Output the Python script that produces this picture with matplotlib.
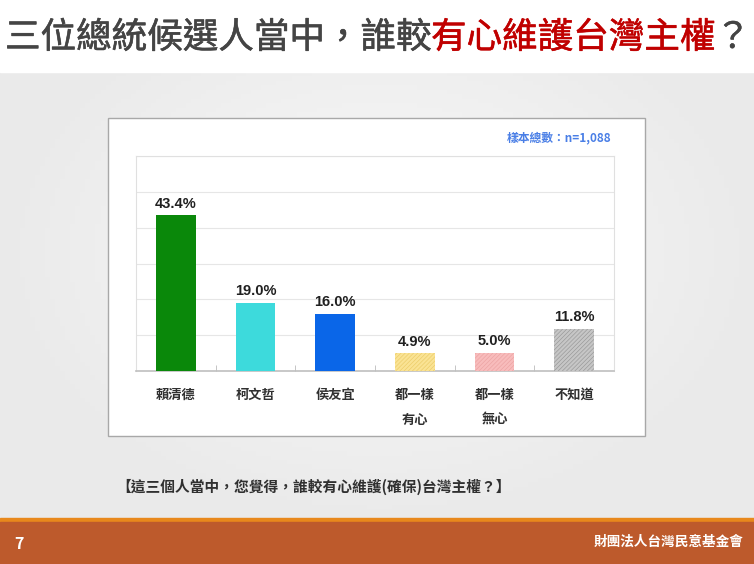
import numpy as np
import matplotlib
matplotlib.use("Agg")
from matplotlib import pyplot as plt
from matplotlib.patches import Rectangle
import matplotlib.patheffects as pe

plt.rcParams['font.family'] = ['Noto Sans CJK TC', 'DejaVu Sans']
plt.rcParams['hatch.linewidth'] = 0.45

# datos
categorii = ['賴清德', '柯文哲', '侯友宜', '都一樣\n有心', '都一樣\n無心', '不知道']
valori = [43.4, 19.0, 16.0, 4.9, 5.0, 11.8]
etichete = ['43.4%', '19.0%', '16.0%', '4.9%', '5.0%', '11.8%']
culori = ['#0a880a', '#3ddadc', '#0a66e8', '#fae394', '#f8bcbc', '#c6c6c6']
hasuri = [None, None, None, '////////', '////////', '////////']
culori_hasura = ['#0a880a', '#3ddadc', '#0a66e8', '#eccb66', '#eba2a2', '#979797']

W, H = 754, 564
fig = plt.figure(figsize=(W / 100, H / 100), dpi=100)

# fundal in coordonate de pixeli
bg = fig.add_axes([0, 0, 1, 1])
bg.set_xlim(0, W)
bg.set_ylim(H, 0)
bg.axis('off')

# gradient gri deschis
yy, xx = np.mgrid[0:100, 0:150]
d = np.sqrt(((xx - 75) / 75) ** 2 + ((yy - 40) / 60) ** 2)
grad = 0.975 - 0.06 * np.clip(d, 0, 1)
bg.imshow(grad, extent=[0, W, 518, 72], cmap='gray', vmin=0, vmax=1, aspect='auto', zorder=0)
bg.add_patch(Rectangle((0, 0), W, 72, color='white', zorder=1))
bg.add_patch(Rectangle((0, 518), W, 5, color='#e8881c', zorder=1))
bg.add_patch(Rectangle((0, 522), W, 42, color='#bd5a2c', zorder=1))

# caseta alba a graficului
bg.add_patch(Rectangle((108, 118), 537, 318, facecolor='white', edgecolor='#a8a8a8', lw=1.0, zorder=2))

# titlu in doua culori (regular ingrosat putin)
fig.canvas.draw()
r = fig.canvas.get_renderer()
gri_t = '#444444'
rosu_t = '#c00000'
t1 = bg.text(5, 38, '三位總統候選人當中，誰較', fontsize=25.6, color=gri_t,
             va='center', ha='left', zorder=3,
             path_effects=[pe.withStroke(linewidth=0.4, foreground=gri_t)])
bb = t1.get_window_extent(renderer=r)
t2 = fig.text(bb.x1 / W, 1 - 38 / H, '有心維護台灣主權', fontsize=25.6, color=rosu_t,
              va='center', ha='left',
              path_effects=[pe.withStroke(linewidth=0.4, foreground=rosu_t)])
bb2 = t2.get_window_extent(renderer=r)
fig.text(bb2.x1 / W, 1 - 38 / H, '？', fontsize=25.6, color=gri_t, va='center', ha='left',
         path_effects=[pe.withStroke(linewidth=0.4, foreground=gri_t)])

bg.text(611, 138, '樣本總數：n=1,088', fontsize=8.5, color='#4a7fe6', ha='right', va='center',
        fontweight='bold', zorder=3)
bg.text(116, 487, '【這三個人當中，您覺得，誰較有心維護(確保)台灣主權？】', fontsize=10.6,
        color='#303030', ha='left', va='center', fontweight='bold', zorder=3)
bg.text(14, 544, '7', fontsize=11.5, color='white', ha='left', va='center', fontweight='bold', zorder=3)
bg.text(744, 542, '財團法人台灣民意基金會', fontsize=9.8, color='white', ha='right', va='center',
        fontweight='bold', zorder=3)

# axa graficului
left, right, top, bottom = 136, 614, 156, 371
ax = fig.add_axes([left / W, 1 - bottom / H, (right - left) / W, (bottom - top) / H])
x = np.arange(len(categorii))
for i in range(len(categorii)):
    if hasuri[i]:
        ax.bar(x[i], valori[i], width=0.5, color=culori[i], edgecolor=culori_hasura[i],
               hatch=hasuri[i], linewidth=0, zorder=3)
    else:
        ax.bar(x[i], valori[i], width=0.5, color=culori[i], linewidth=0, zorder=3)
    ax.text(x[i], valori[i] + 1.3, etichete[i], ha='center', va='bottom', fontsize=10.5,
            fontweight='bold', color='#202020', family=['Liberation Sans'])

ax.set_xlim(-0.5, len(categorii) - 0.5)
ax.set_ylim(0, 60)
ax.set_yticks(np.arange(0, 61, 10))
ax.yaxis.grid(True, color='#e6e6e6', lw=0.8)
ax.set_axisbelow(True)
ax.tick_params(axis='y', left=False, labelleft=False)
ax.set_xticks(x)
ax.set_xticklabels(categorii, fontsize=9.5, fontweight='bold', color='#303030', linespacing=2.0, va='top')
ax.tick_params(axis='x', length=0, pad=12)
ax.set_xticks(np.arange(0.5, len(categorii) - 1, 1), minor=True)
ax.tick_params(axis='x', which='minor', length=4, color='#bbbbbb', direction='in')
for s in ['top', 'left', 'right']:
    ax.spines[s].set_color('#e0e0e0')
ax.spines['bottom'].set_color('#bfbfbf')
ax.spines['bottom'].set_linewidth(1.2)

fig.savefig('out.png', dpi=100)
